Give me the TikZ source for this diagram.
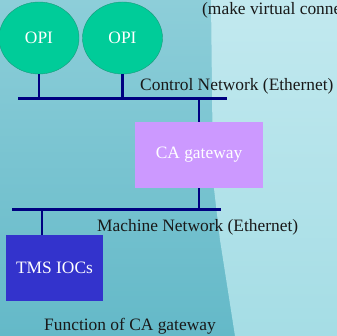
\documentclass[tikz,border=0pt]{standalone}
\usepackage{fontspec}
\setmainfont{Liberation Serif}
\usetikzlibrary{shapes.geometric}
\definecolor{opigreen}{HTML}{00CC99}
\definecolor{opiedge}{HTML}{1A9A7C}
\definecolor{gwpurple}{HTML}{CC99FF}
\definecolor{iocblue}{HTML}{3333CC}
\definecolor{netnavy}{HTML}{000080}
\definecolor{bgleftA}{HTML}{8DCED9}
\definecolor{bgleftB}{HTML}{64B9C8}
\definecolor{bgrightA}{HTML}{C2E9EF}
\definecolor{bgrightB}{HTML}{A5DDE5}
\tikzset{
  txt/.style={font=\fontsize{17.4}{20}\selectfont, inner sep=0pt},
  opi/.style={txt, ellipse, draw=opiedge, fill=opigreen, text=white,
    minimum width=80pt, minimum height=72pt},
  box/.style={txt, text=white},
  lbl/.style={txt, text=black!90},
  bus/.style={draw=netnavy, line width=3pt},
  tap/.style={draw=netnavy, line width=2.5pt}
}

\begin{document}
\begin{tikzpicture}[x=1pt,y=-1pt]
  \clip (0,0) rectangle (337,336);
  % background
  \shade[top color=bgleftA, bottom color=bgleftB] (0,0) rectangle (337,336);
  \shade[top color=bgrightA, bottom color=bgrightB]
    (211,0) -- (213,180) -- (220,240) -- (235,336) -- (337,336) -- (337,0) -- cycle;
  % nodes
  \node[opi] (opi1) at (39,38) {OPI};
  \node[opi] (opi2) at (122.5,38) {OPI};
  \node[box, fill=gwpurple, minimum width=128pt, minimum height=66pt] (gw) at (199,155) {CA gateway};
  \node[box, fill=iocblue, minimum width=97pt, minimum height=66pt] (ioc) at (54.5,268) {TMS IOCs};
  % labels
  \node[lbl, anchor=base west] (note) at (202,15) {(make virtual conne};
  \node[lbl, anchor=base west] (ctrl) at (140,90.5) {Control Network (Ethernet)};
  \node[lbl, anchor=base west] (mach) at (97,232) {Machine Network (Ethernet)};
  \node[lbl, anchor=base west] (func) at (44,330.5) {Function of CA gateway};
  % networks
  \coordinate (cbusW) at (18,99);
  \coordinate (cbusE) at (227,99);
  \coordinate (mbusW) at (12,210);
  \coordinate (mbusE) at (221,210);
  \coordinate (ioctap) at (42,210);
  \draw[bus] (cbusW) -- (cbusE);
  \draw[bus] (mbusW) -- (mbusE);
  % taps
  \draw[tap] (opi1.south) -- (opi1.south |- cbusW);
  \draw[tap] (opi2.south) -- (opi2.south |- cbusW);
  \draw[tap] (gw.north |- cbusW) -- (gw.north);
  \draw[tap] (gw.south) -- (gw.south |- mbusW);
  \draw[tap] (ioctap) -- (ioctap |- ioc.north);
\end{tikzpicture}
\end{document}
